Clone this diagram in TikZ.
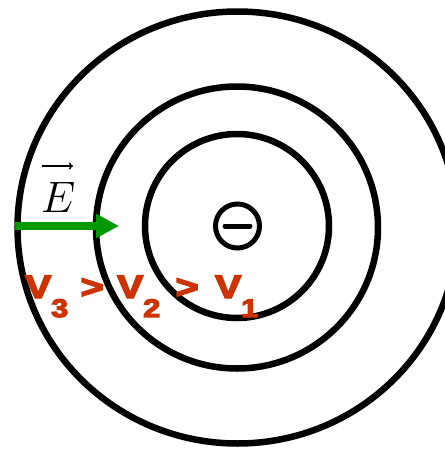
\RequirePackage{fix-cm}
\documentclass[tikz,border=0pt]{standalone}
\usepackage{fontspec}
\newfontfamily\potfam{Liberation Sans Bold}[FakeBold=4.5]
\usetikzlibrary{arrows.meta}
\definecolor{vred}{RGB}{204,51,0}
\definecolor{egreen}{RGB}{0,153,0}
\newcommand{\vsub}[1]{\raisebox{-19pt}{\fontsize{25.5}{25.5}\selectfont #1}}
\newcommand{\potfont}{\potfam\fontsize{32.5}{32.5}\selectfont}
\tikzset{
  ring/.style={draw=black, line width=6.5pt},
  chargebox/.style={circle, draw=black, line width=5pt, minimum size=44pt, inner sep=0pt},
  fieldarrow/.style={draw=egreen, line width=8pt, -{Triangle[length=23pt,width=23pt]}},
  vecarrow/.style={draw=black, line width=1.4pt, -{To[length=4pt,width=7pt]}},
  potlabel/.style={text=vred, inner sep=0pt, anchor=base west}
}
\begin{document}
\begin{tikzpicture}[x=1pt,y=-1pt]
\useasboundingbox (0,0) rectangle (445,451);
\clip (0,0) rectangle (445,451);
\draw[ring] (237.5,227.5) ellipse [x radius=220, y radius=216];
\draw[ring] (237,227.5) circle [radius=141];
\draw[ring] (237,226) circle [radius=92];
\node[chargebox] (charge) at (237.5,226) {};
\draw[line width=5pt, line cap=round] ([xshift=-12.5pt]charge.center) -- ([xshift=12.5pt]charge.center);
\coordinate (estart) at (15,226);
\coordinate (etip) at (119,226);
\draw[fieldarrow] (estart) -- (etip);
\node[anchor=base, inner sep=0pt] (elabel) at (58,212) {\fontsize{44}{44}\selectfont $E$};
\coordinate (vecl) at (42,166);
\coordinate (vecr) at (73,166);
\draw[vecarrow] (vecl) -- (vecr);
\node[potlabel] (v3) at (25,298) {\scalebox{1.2}[1]{\potfont V\vsub{3}}};
\node[potlabel] (gt1) at (80.5,298) {\scalebox{1.2}[1]{\potfont >}};
\node[potlabel] (v2) at (117,298) {\scalebox{1.2}[1]{\potfont V\vsub{2}}};
\node[potlabel] (gt2) at (175.5,298) {\scalebox{1.2}[1]{\potfont >}};
\node[potlabel] (v1) at (215,298) {\scalebox{1.2}[1]{\potfont V\vsub{1}}};
\end{tikzpicture}
\end{document}
